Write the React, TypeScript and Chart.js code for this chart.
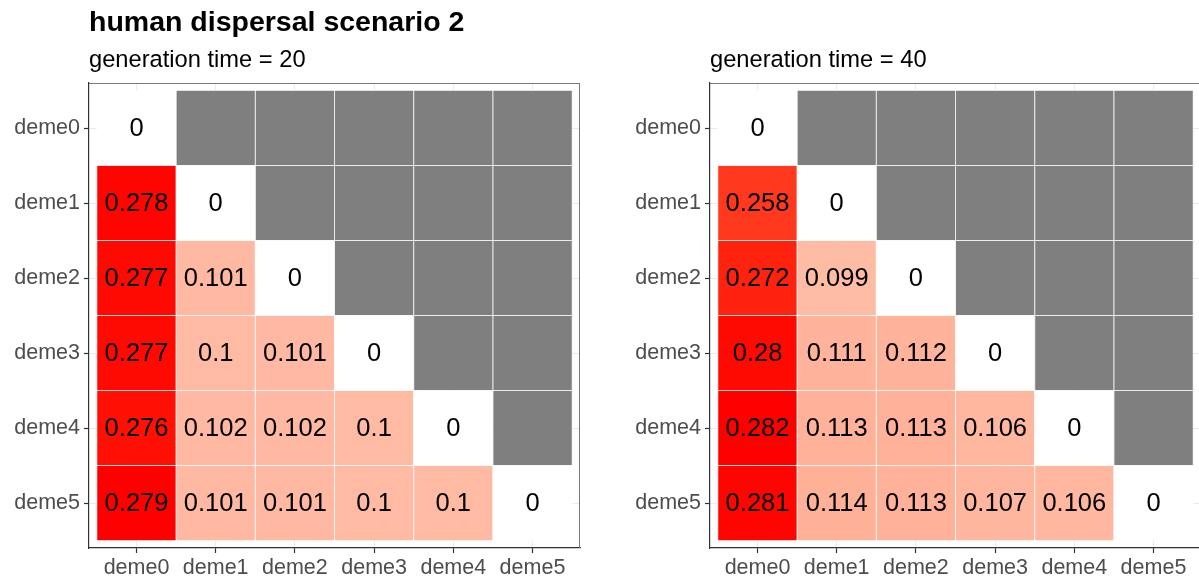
import React, { useEffect, useRef } from "react";
import { Chart, registerables } from "chart.js";
Chart.register(...registerables);

const demes = ["deme0", "deme1", "deme2", "deme3", "deme4", "deme5"];
const mainTitle = "human dispersal scenario 2";
const subtitle20 = "generation time = 20";
const subtitle40 = "generation time = 40";

// lower-triangle values, row i = y deme, column j = x deme (j <= i)
const gen20Rows: number[][] = [
  [0],
  [0.278, 0],
  [0.277, 0.101, 0],
  [0.277, 0.1, 0.101, 0],
  [0.276, 0.102, 0.102, 0.1, 0],
  [0.279, 0.101, 0.101, 0.1, 0.1, 0],
];
const gen40Rows: number[][] = [
  [0],
  [0.258, 0],
  [0.272, 0.099, 0],
  [0.28, 0.111, 0.112, 0],
  [0.282, 0.113, 0.113, 0.106, 0],
  [0.281, 0.114, 0.113, 0.107, 0.106, 0],
];

const NA_COLOR = "#7F7F7F";
const FONT = "'Liberation Sans', Arial, sans-serif";

// --- Lab colour interpolation (white -> red), like ggplot's gradient
function srgbToLin(c: number) {
  c /= 255;
  return c <= 0.04045 ? c / 12.92 : Math.pow((c + 0.055) / 1.055, 2.4);
}
function linToSrgb(c: number) {
  const v = c <= 0.0031308 ? 12.92 * c : 1.055 * Math.pow(c, 1 / 2.4) - 0.055;
  return Math.max(0, Math.min(255, Math.round(v * 255)));
}
const WX = 0.95047, WY = 1.0, WZ = 1.08883;
function rgbToLab(r: number, g: number, b: number) {
  const R = srgbToLin(r), G = srgbToLin(g), B = srgbToLin(b);
  const X = (R * 0.4124 + G * 0.3576 + B * 0.1805) / WX;
  const Y = (R * 0.2126 + G * 0.7152 + B * 0.0722) / WY;
  const Z = (R * 0.0193 + G * 0.1192 + B * 0.9505) / WZ;
  const f = (t: number) => (t > 0.008856 ? Math.cbrt(t) : 7.787 * t + 16 / 116);
  const fx = f(X), fy = f(Y), fz = f(Z);
  return [116 * fy - 16, 500 * (fx - fy), 200 * (fy - fz)];
}
function labToRgb(L: number, a: number, b: number) {
  const fy = (L + 16) / 116, fx = fy + a / 500, fz = fy - b / 200;
  const fi = (t: number) => (t * t * t > 0.008856 ? t * t * t : (t - 16 / 116) / 7.787);
  const X = fi(fx) * WX, Y = fi(fy) * WY, Z = fi(fz) * WZ;
  const R = X * 3.2406 + Y * -1.5372 + Z * -0.4986;
  const G = X * -0.9689 + Y * 1.8758 + Z * 0.0415;
  const B = X * 0.0557 + Y * -0.204 + Z * 1.057;
  return `rgb(${linToSrgb(R)},${linToSrgb(G)},${linToSrgb(B)})`;
}
const LOW = rgbToLab(255, 255, 255);
const HIGH = rgbToLab(255, 0, 0);
function fillFor(v: number, max: number) {
  const t = Math.max(0, Math.min(1, v / max));
  return labToRgb(
    LOW[0] + (HIGH[0] - LOW[0]) * t,
    LOW[1] + (HIGH[1] - LOW[1]) * t,
    LOW[2] + (HIGH[2] - LOW[2]) * t
  );
}

type Cell = { x: number; y: number; v: number | null };
function buildCells(rows: number[][]): Cell[] {
  const cells: Cell[] = [];
  for (let i = 0; i < demes.length; i++) {
    for (let j = 0; j < demes.length; j++) {
      const v = j < rows[i].length ? rows[i][j] : null;
      cells.push({ x: j, y: i, v });
    }
  }
  return cells;
}

const heatmapPlugin = {
  id: "heatmapTiles",
  beforeDatasetsDraw(chart: any) {
    const { ctx, scales } = chart;
    const xs = scales.x, ys = scales.y;
    const cells: Cell[] = chart.data.datasets[0].data;
    const max = Math.max(...cells.map((c) => (c.v == null ? 0 : c.v)));
    ctx.save();
    for (const c of cells) {
      const x0 = xs.getPixelForValue(c.x - 0.5);
      const x1 = xs.getPixelForValue(c.x + 0.5);
      const y0 = ys.getPixelForValue(c.y - 0.5);
      const y1 = ys.getPixelForValue(c.y + 0.5);
      ctx.fillStyle = c.v == null ? NA_COLOR : fillFor(c.v, max);
      ctx.fillRect(x0, Math.min(y0, y1), x1 - x0, Math.abs(y1 - y0));
    }
    ctx.strokeStyle = "rgba(255,255,255,0.55)";
    ctx.lineWidth = 1;
    for (const c of cells) {
      const x0 = xs.getPixelForValue(c.x - 0.5);
      const x1 = xs.getPixelForValue(c.x + 0.5);
      const y0 = ys.getPixelForValue(c.y - 0.5);
      const y1 = ys.getPixelForValue(c.y + 0.5);
      ctx.strokeRect(x0, Math.min(y0, y1), x1 - x0, Math.abs(y1 - y0));
    }
    ctx.restore();
  },
  afterDatasetsDraw(chart: any) {
    const { ctx, scales } = chart;
    const cells: Cell[] = chart.data.datasets[0].data;
    ctx.save();
    ctx.fillStyle = "#000000";
    ctx.font = `25.5px ${FONT}`;
    ctx.textAlign = "center";
    ctx.textBaseline = "middle";
    for (const c of cells) {
      if (c.v == null) continue;
      ctx.fillText(String(c.v), scales.x.getPixelForValue(c.x), scales.y.getPixelForValue(c.y) + 1);
    }
    ctx.restore();
  },
  afterDraw(chart: any, _args: any, opts: any) {
    const { ctx, chartArea } = chart;
    ctx.save();
    // top and right panel border
    ctx.strokeStyle = "#7A7A7A";
    ctx.lineWidth = 1;
    ctx.beginPath();
    ctx.moveTo(chartArea.left, chartArea.top + 0.5);
    ctx.lineTo(chartArea.right, chartArea.top + 0.5);
    ctx.moveTo(chartArea.right - 0.5, chartArea.top);
    ctx.lineTo(chartArea.right - 0.5, chartArea.bottom);
    ctx.stroke();
    // titles
    ctx.fillStyle = "#000000";
    ctx.textAlign = "left";
    ctx.textBaseline = "alphabetic";
    if (opts.title) {
      ctx.font = `bold 28.5px ${FONT}`;
      ctx.fillText(opts.title, chartArea.left, 31);
    }
    if (opts.subtitle) {
      ctx.font = `23.7px ${FONT}`;
      ctx.fillText(opts.subtitle, chartArea.left, 67);
    }
    ctx.restore();
  },
};

function makeConfig(rows: number[][], leftW: number, padRight: number, title: string, subtitle: string): any {
  const tickFont = { size: 21.5, family: FONT };
  return {
    type: "scatter",
    data: {
      datasets: [
        {
          data: buildCells(rows),
          pointRadius: 0,
          pointHoverRadius: 0,
        },
      ],
    },
    plugins: [heatmapPlugin],
    options: {
      animation: false,
      responsive: false,
      events: [],
      layout: { padding: { top: 83, right: padRight, left: 0, bottom: 0 } },
      plugins: {
        legend: { display: false },
        tooltip: { enabled: false },
        heatmapTiles: { title, subtitle },
      },
      scales: {
        x: {
          type: "linear",
          min: -0.6,
          max: 5.6,
          afterBuildTicks: (a: any) => {
            a.ticks = demes.map((_, i) => ({ value: i }));
          },
          afterFit: (a: any) => {
            a.height = 33;
          },
          ticks: {
            callback: (v: any) => demes[v],
            color: "#4D4D4D",
            font: tickFont,
            padding: 2,
            maxRotation: 0,
            autoSkip: false,
          },
          grid: { color: "#EBEBEB", lineWidth: 1, tickColor: "#333333", tickLength: 5, tickWidth: 1.2 },
          border: { display: true, color: "#333333", width: 1.2 },
        },
        y: {
          type: "linear",
          min: -0.6,
          max: 5.6,
          reverse: true,
          afterBuildTicks: (a: any) => {
            a.ticks = demes.map((_, i) => ({ value: i }));
          },
          afterFit: (a: any) => {
            a.width = leftW;
          },
          ticks: {
            callback: (v: any) => demes[v],
            color: "#4D4D4D",
            font: tickFont,
            padding: 4,
            autoSkip: false,
          },
          grid: { color: "#EBEBEB", lineWidth: 1, tickColor: "#333333", tickLength: 5, tickWidth: 1.2 },
          border: { display: true, color: "#333333", width: 1.2 },
        },
      },
    },
  };
}

function Panel(props: { rows: number[][]; left: number; width: number; leftW: number; padRight: number; title: string; subtitle: string }) {
  const ref = useRef<HTMLCanvasElement>(null);
  useEffect(() => {
    if (!ref.current) return;
    const chart = new Chart(ref.current, makeConfig(props.rows, props.leftW, props.padRight, props.title, props.subtitle));
    return () => chart.destroy();
  }, []);
  return (
    <canvas
      ref={ref}
      width={props.width}
      height={581}
      style={{ position: "absolute", left: props.left, top: 0, width: props.width, height: 581 }}
    />
  );
}

export default function App() {
  return (
    <div
      style={{
        position: "fixed",
        left: 0,
        top: 0,
        width: 1199,
        height: 581,
        overflow: "hidden",
        background: "#ffffff",
      }}
    >
      <Panel rows={gen20Rows} left={0} width={600} leftW={89} padRight={20} title={mainTitle} subtitle={subtitle20} />
      <Panel rows={gen40Rows} left={600} width={605} leftW={110} padRight={4} title="" subtitle={subtitle40} />
    </div>
  );
}
